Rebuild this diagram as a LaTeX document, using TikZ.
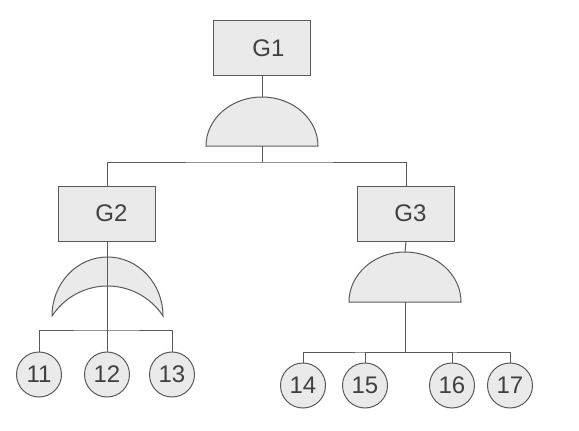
\documentclass[tikz,border=0pt]{standalone}
\usepackage{fontspec}
\setmainfont{Liberation Sans}
\usetikzlibrary{positioning}
\definecolor{linegray}{RGB}{89,89,89}
\definecolor{fillgray}{RGB}{234,234,234}
\definecolor{textgray}{RGB}{64,64,64}

\begin{document}
\begin{tikzpicture}[x=1pt, y=-1pt,
    event/.style={rectangle, draw=linegray, fill=fillgray, minimum width=97pt, minimum height=55pt, inner sep=0pt, font=\fontsize{24}{27}\selectfont, text=textgray, line width=1pt},
    basic/.style={circle, draw=linegray, fill=fillgray, minimum size=45pt, inner sep=0pt, font=\fontsize{24}{27}\selectfont, text=textgray, line width=1pt},
    gate/.style={draw=linegray, fill=fillgray, line width=1pt},
    wire/.style={draw=linegray, line width=1pt}
  ]
    \useasboundingbox (0,0) rectangle (579,431);

    % Events
    \node[event] (g1) at (262,48) {\hspace*{13pt}G1};
    \node[event] (g2) at (107,213.5) {\hspace*{9pt}G2};
    \node[event] (g3) at (406,213.5) {\hspace*{9pt}G3};

    % Gates
    \draw[gate] (206,146) arc[start angle=180, end angle=0, x radius=56pt, y radius=49pt] -- cycle;
    \coordinate (and1in) at (262,97);
    \coordinate (and1out) at (262,146);
    \draw[gate] (52,316) arc[start angle=180, end angle=0, x radius=55.5pt, y radius=59pt]
      arc[start angle=33.2, end angle=146.8, radius=66.3pt] -- cycle;
    \draw[gate] (349,302) arc[start angle=180, end angle=0, x radius=56pt, y radius=50pt] -- cycle;
    \coordinate (and3in) at (405,252);
    \coordinate (and3out) at (405,302);

    % Busses
    \coordinate (bus1) at (262,162);
    \coordinate (bus2) at (107,330);
    \coordinate (bus3) at (405,352);

    % Basic events
    \node[basic] (e11) at (39,374.5) {11};
    \node[basic] (e12) at (107,374.5) {12};
    \node[basic] (e13) at (172,374.5) {13};
    \node[basic] (e14) at (303,385.5) {14};
    \node[basic] (e15) at (365,385.5) {15};
    \node[basic] (e16) at (452,385.5) {16};
    \node[basic] (e17) at (510,385.5) {17};

    % Connections
    \draw[wire] (g1.south) -- (and1in);
    \draw[wire] (and1out) -- (bus1);
    \draw[wire] (g2.north) |- (bus1) -| (g3.north);
    \draw[wire] (g2.south) -- (bus2);
    \draw[wire] (e11.north) |- (bus2) -| (e13.north);
    \draw[wire] (bus2) -- (e12.north);
    \draw[wire] (g3.south) -- (and3in);
    \draw[wire] (and3out) -- (bus3);
    \draw[wire] (e14.north) |- (bus3) -| (e17.north);
    \draw[wire] (e15.north) |- (bus3);
    \draw[wire] (e16.north) |- (bus3);
  \end{tikzpicture}
\end{document}
